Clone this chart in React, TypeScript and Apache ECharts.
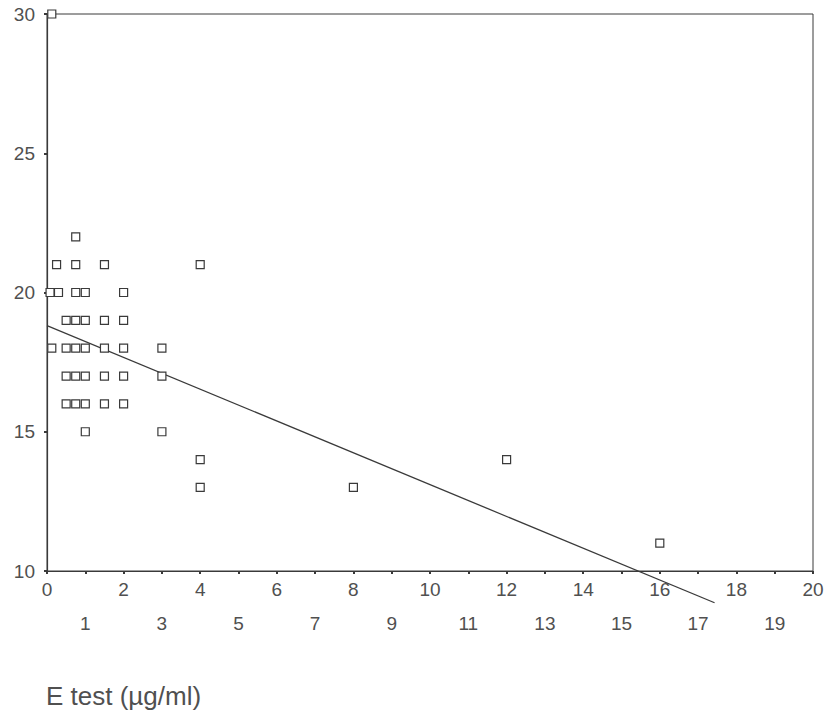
import React, { useEffect, useRef } from "react";
import * as echarts from "echarts";

// Scatter points (E test MIC in µg/ml vs zone diameter)
const pointsX: number[] = [
  0.125,
  0.75,
  0.25, 0.75, 1.5, 4,
  0.08, 0.3, 0.75, 1, 2,
  0.5, 0.75, 1, 1.5, 2,
  0.125, 0.5, 0.75, 1, 1.5, 2, 3,
  0.5, 0.75, 1, 1.5, 2, 3,
  0.5, 0.75, 1, 1.5, 2,
  1, 3,
  4, 12,
  4, 8,
  16,
];
const pointsY: number[] = [
  30,
  22,
  21, 21, 21, 21,
  20, 20, 20, 20, 20,
  19, 19, 19, 19, 19,
  18, 18, 18, 18, 18, 18, 18,
  17, 17, 17, 17, 17, 17,
  16, 16, 16, 16, 16,
  15, 15,
  14, 14,
  13, 13,
  11,
];

// Regression line end points
const regX: number[] = [0, 17.43];
const regY: number[] = [18.81, 8.86];

const axisTitle = "E test (\u00b5g/ml)";

export default function App() {
  const ref = useRef<HTMLDivElement>(null);

  useEffect(() => {
    if (!ref.current) return;
    const chart = echarts.init(ref.current, undefined, { renderer: "svg" });
    const textColor = "#505050";
    const lineColor = "#3a3a3a";
    const fontFamily = "Liberation Sans, Arial, sans-serif";
    chart.setOption({
      animation: false,
      backgroundColor: "#ffffff",
      grid: {
        left: 47,
        right: 20,
        top: 14,
        bottom: 148,
        show: true,
        borderColor: lineColor,
        borderWidth: 1,
        backgroundColor: "transparent",
      },
      xAxis: {
        type: "value",
        min: 0,
        max: 20,
        interval: 1,
        splitLine: { show: false },
        axisLine: { show: true, lineStyle: { color: lineColor, width: 1.2 } },
        axisTick: { show: true, length: 3, lineStyle: { color: lineColor, width: 2 } },
        axisLabel: {
          color: textColor,
          fontSize: 19,
          fontFamily,
          margin: 1,
          lineHeight: 34,
          formatter: (v: number) => (v % 2 === 0 ? `${v}` : `\n${v}`),
        },
      },
      yAxis: {
        type: "value",
        min: 10,
        max: 30,
        interval: 5,
        splitLine: { show: false },
        axisLine: { show: true, lineStyle: { color: lineColor, width: 1.2 } },
        axisTick: { show: true, length: 3, lineStyle: { color: lineColor, width: 2 } },
        axisLabel: {
          color: textColor,
          fontSize: 19,
          fontFamily,
          margin: 12,
        },
      },
      series: [
        {
          type: "line",
          data: regX.map((x, i) => [x, regY[i]]),
          showSymbol: false,
          symbol: "none",
          clip: false,
          lineStyle: { color: lineColor, width: 1.3 },
          z: 2,
        },
        {
          type: "scatter",
          data: pointsX.map((x, i) => [x, pointsY[i]]),
          symbol: "rect",
          symbolSize: 8,
          clip: false,
          itemStyle: {
            color: "#ffffff",
            borderColor: "#3a3a3a",
            borderWidth: 1.2,
            opacity: 1,
          },
          z: 3,
        },
      ],
      graphic: [
        {
          type: "text",
          x: 46,
          y: 696,
          style: {
            text: axisTitle,
            fill: textColor,
            fontSize: 26,
            fontFamily,
            verticalAlign: "middle",
          },
        },
      ],
    });
    return () => chart.dispose();
  }, []);

  return <div ref={ref} style={{ width: 833, height: 719, margin: -8 }} />;
}
